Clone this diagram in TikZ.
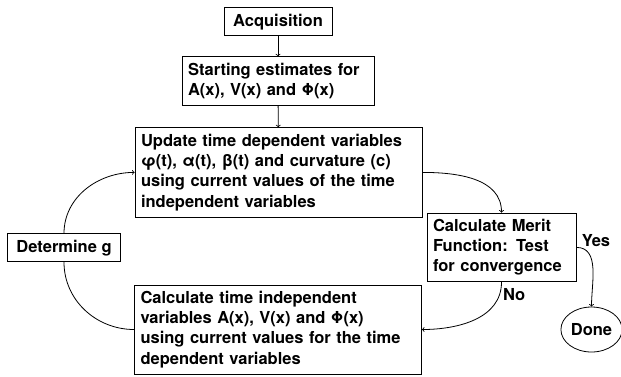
\documentclass[tikz,border=0pt]{standalone}
\usepackage{fontspec}
\setmainfont{TeX Gyre Heros}
\usetikzlibrary{shapes.geometric}
\begin{document}
\begin{tikzpicture}[x=1pt,y=-1pt]
            \tikzstyle{every node} = [font=\fontsize{16.5}{20.2}\selectfont\bfseries, draw, line width=0.8pt, inner sep=6pt]
            \tikzstyle{box} = [rectangle, align=left, minimum height=#1]
            \tikzstyle{link} = [line width=0.8pt]
            \useasboundingbox (0,0) rectangle (621,376);

            \node[minimum width=108pt, minimum height=26.7pt](acq) at (278,21.7){Acquisition};
            \node[box=48.3pt, text width=180pt](start) at (278,81){Starting estimates for\\A(x), V(x) and Φ(x)};
            \node[box=89.3pt, text width=275pt](update) at (278.5,172.4){Update time dependent variables\\φ(t), α(t), β(t) and curvature (c)\\using current values of the time\\independent variables};
            \node[box=68.7pt, text width=137pt](merit) at (501.5,247.4){Calculate Merit\\Function: Test\\for convergence};
            \node[minimum width=112.5pt, minimum height=25.7pt](detg) at (64,247.8){Determine g};
            \node[box=89pt, text width=275pt](calc) at (278,329.5){Calculate time independent\\variables A(x), V(x) and Φ(x)\\using current values for the time\\dependent variables};
            \node[ellipse, minimum width=59pt, minimum height=45pt, inner sep=1pt](done) at (591.5,329.5){Done};

            \path[link] (acq) edge[->] (start);
            \path[link] (start) edge[->] (update);
            \path[link] (update.east) edge[->, out=0, in=90] (merit.north);
            \path[link] (merit.south) edge[->, out=-90, in=0] node[pos=0.12, right, draw=none, inner sep=3pt](){No} (calc.east);
            \path[link] (merit.east) edge[->, out=0, in=90] (done.north);
            \path[link] (calc.west) edge[out=180, in=-90] (detg.south);
            \path[link] (detg.north) edge[->, out=90, in=180] (update.west);

            \node[draw=none, inner sep=0pt](yes) at (596,241){Yes};
      \end{tikzpicture}
\end{document}
